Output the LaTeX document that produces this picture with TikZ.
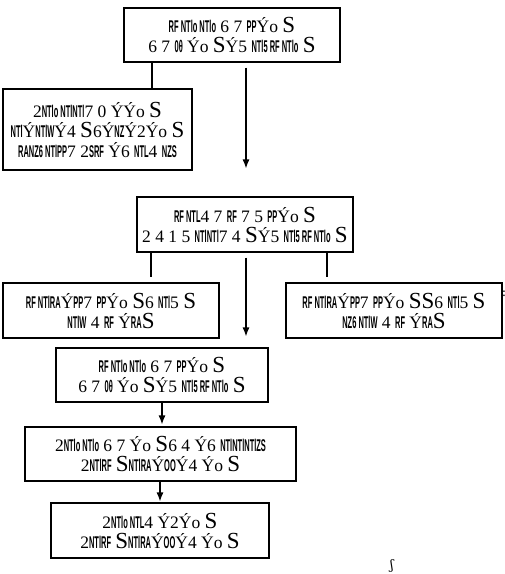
\documentclass[tikz,border=0pt]{standalone}
\usepackage{fontspec}
\setmainfont{Liberation Serif}
\newfontfamily\cndfont{Liberation Sans}[FakeStretch=0.44]
\newfontfamily\ipafont{DejaVu Serif}
\usetikzlibrary{arrows.meta}
\newcommand\gl[1]{{\cndfont\bfseries\fontsize{17}{17}\selectfont #1}}
\newcommand\bS{{\fontsize{23}{23}\selectfont S}}
\tikzset{
  box/.style={draw, line width=1.2pt, align=center, inner sep=0pt,
    font=\fontsize{17.5}{20}\selectfont},
  conn/.style={line width=1.2pt},
  arr/.style={line width=1.2pt, -{Latex[length=9pt,width=7pt]}},
  stray/.style={inner sep=0pt, font=\ipafont\fontsize{13}{13}\selectfont}
}
\begin{document}
\begin{tikzpicture}[x=1pt,y=-1pt]
\useasboundingbox (0,0) rectangle (505,574);
\node[box, minimum width=216pt, minimum height=54pt] (b1) at (232,35)
  {\gl{RF NTlo NTlo} 6 7 \gl{PP}Ýo \bS\\
   6 7 \gl{0θ} Ýo \bS Ý5 \gl{NTl5 RF NTlo} \bS};
\node[box, minimum width=189pt, minimum height=81pt] (b2) at (97.5,129.5)
  {2\gl{NTlo NTlNTl}7 0 ÝÝo \bS\\
   \gl{NTl}Ý\gl{NTlW}Ý4 \bS6Ý\gl{NZ}Ý2Ýo \bS\\
   \gl{RANZ6 NTlPP}7 2\gl{SRF} Ý6 \gl{NTL}4 \gl{NZS}};
\node[box, minimum width=216pt, minimum height=55pt] (b3) at (245,224.5)
  {\gl{RF NTL}4 7 \gl{RF} 7 5 \gl{PP}Ýo \bS\\
   2 4 1 5 \gl{NTlNTl}7 4 \bS Ý5 \gl{NTl5 RF NTlo} \bS};
\node[box, minimum width=216pt, minimum height=55pt] (b4) at (111,310.5)
  {\gl{RF NTlRA}Ý\gl{PP}7 \gl{PP}Ýo \bS6 \gl{NTl}5 \bS\\
   \gl{NTlW} 4 \gl{RF} Ý\gl{RA}\bS};
\node[box, minimum width=216pt, minimum height=55pt] (b5) at (394,310.5)
  {\gl{RF NTlRA}Ý\gl{PP}7 \gl{PP}Ýo \bS\bS6 \gl{NTl}5 \bS\\
   \gl{NZ6 NTlW} 4 \gl{RF} Ý\gl{RA}\bS};
\node[box, minimum width=212pt, minimum height=54pt] (b6) at (162,375)
  {\gl{RF NTlo NTlo} 6 7 \gl{PP}Ýo \bS\\
   6 7 \gl{0θ} Ýo \bS Ý5 \gl{NTl5 RF NTlo} \bS};
\node[box, minimum width=271pt, minimum height=54pt] (b7) at (160.5,454)
  {2\gl{NTlo NTlo} 6 7 Ýo \bS 6 4 Ý6 \gl{NTlNTlNTlZS}\\
   2\gl{NTlRF} \bS\gl{NTlRA}Ý\gl{OO}Ý4 Ýo \bS};
\node[box, minimum width=218pt, minimum height=55pt] (b8) at (160,530.5)
  {2\gl{NTlo NTL}4 Ý2Ýo \bS\\
   2\gl{NTlRF} \bS\gl{NTlRA}Ý\gl{OO}Ý4 Ýo \bS};
\node[stray] (s1) at (392,566) {ʃ};
\node[stray] (s2) at (504,294) {:};
% connectors
\coordinate (x1) at (152,0);
\coordinate (x2) at (246,0);
\coordinate (x3) at (151,0);
\coordinate (x4) at (327,0);
\coordinate (x5) at (162,0);
\coordinate (x6) at (160,0);
\draw[conn] (b1.south -| x1) -- (b2.north -| x1);
\draw[arr, shorten <=5pt, shorten >=28pt] (b1.south -| x2) -- (b3.north -| x2);
\draw[conn, shorten >=5pt] (b3.south -| x3) -- (b4.north -| x3);
\draw[conn, shorten >=5pt] (b3.south -| x4) -- (b5.north -| x4);
\draw[arr, shorten <=5pt, shorten >=11pt] (b3.south -| x2) -- (b6.north -| x2);
\draw[arr, shorten >=2pt] (b6.south -| x5) -- (b7.north -| x5);
\draw[arr, shorten >=1pt] (b7.south -| x6) -- (b8.north -| x6);
\end{tikzpicture}
\end{document}
